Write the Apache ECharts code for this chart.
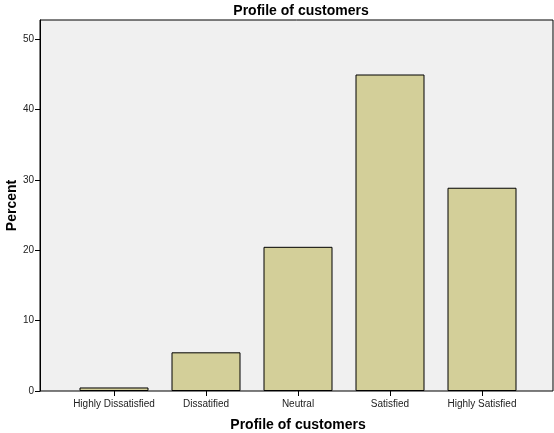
<!DOCTYPE html>
<html>
<head>
<meta charset="utf-8">
<script src="https://cdn.jsdelivr.net/npm/echarts@6/dist/echarts.min.js"></script>
<style>
  html, body { margin: 0; padding: 0; background: #ffffff; }
  #chart { width: 554px; height: 433px; }
</style>
</head>
<body>
<div id="chart"></div>
<script>
// Customer satisfaction profile, percent of respondents per category
const categories = ['Highly Dissatisfied', 'Dissatified', 'Neutral', 'Satisfied', 'Highly Satisfied'];
const percents = [0.5, 5.5, 20.5, 45.0, 28.9];
const yTicks = [0, 10, 20, 30, 40, 50];

const font = 'Liberation Sans, Arial, sans-serif';
const yMax = 52.75;

const chart = echarts.init(document.getElementById('chart'), null, { renderer: 'canvas' });

chart.setOption({
  animation: false,
  backgroundColor: '#ffffff',
  title: {
    text: 'Profile of customers',
    left: 296, top: -1, textAlign: 'center',
    textStyle: { fontFamily: font, fontSize: 14, fontWeight: 'bold', color: '#000' }
  },
  grid: [
    // framed plot panel with the percent scale
    { left: 40, top: 20, right: 1, bottom: 42, show: true, outerBoundsMode: 'none',
      backgroundColor: '#f0f0f0', borderColor: '#000', borderWidth: 1, containLabel: false },
    // inner band where the categories sit
    { left: 68, top: 20, right: 26, bottom: 42, outerBoundsMode: 'none', containLabel: false }
  ],
  xAxis: [
    { gridIndex: 0, type: 'value', min: 0, max: 1, show: false },
    {
      gridIndex: 1, type: 'category', data: categories,
      name: 'Profile of customers', nameLocation: 'middle', nameGap: 27,
      nameTextStyle: { fontFamily: font, fontSize: 14, fontWeight: 'bold', color: '#000' },
      axisLine: { show: false },
      axisTick: { show: true, alignWithLabel: true, length: 5, lineStyle: { color: '#000', width: 1 } },
      axisLabel: { fontFamily: font, fontSize: 10, color: '#222', margin: 8, interval: 0 },
      splitLine: { show: false }
    }
  ],
  yAxis: [
    {
      gridIndex: 0, type: 'value', min: 0, max: yMax, interval: 10,
      name: 'Percent', nameLocation: 'middle', nameGap: 21, nameMoveOverlap: false,
      nameTextStyle: { fontFamily: font, fontSize: 14, fontWeight: 'bold', color: '#000' },
      axisLine: { show: true, lineStyle: { color: '#000', width: 1 } },
      axisTick: { show: true, length: 5, customValues: yTicks, lineStyle: { color: '#000', width: 1 } },
      axisLabel: { fontFamily: font, fontSize: 10, color: '#222', margin: 6, customValues: yTicks },
      splitLine: { show: false }
    },
    { gridIndex: 1, type: 'value', min: 0, max: yMax, show: false }
  ],
  series: [{
    type: 'bar',
    xAxisIndex: 1, yAxisIndex: 1,
    data: percents,
    barWidth: '75%',
    itemStyle: { color: '#d3cf99', borderColor: '#000', borderWidth: 1 }
  }]
});
</script>
</body>
</html>
